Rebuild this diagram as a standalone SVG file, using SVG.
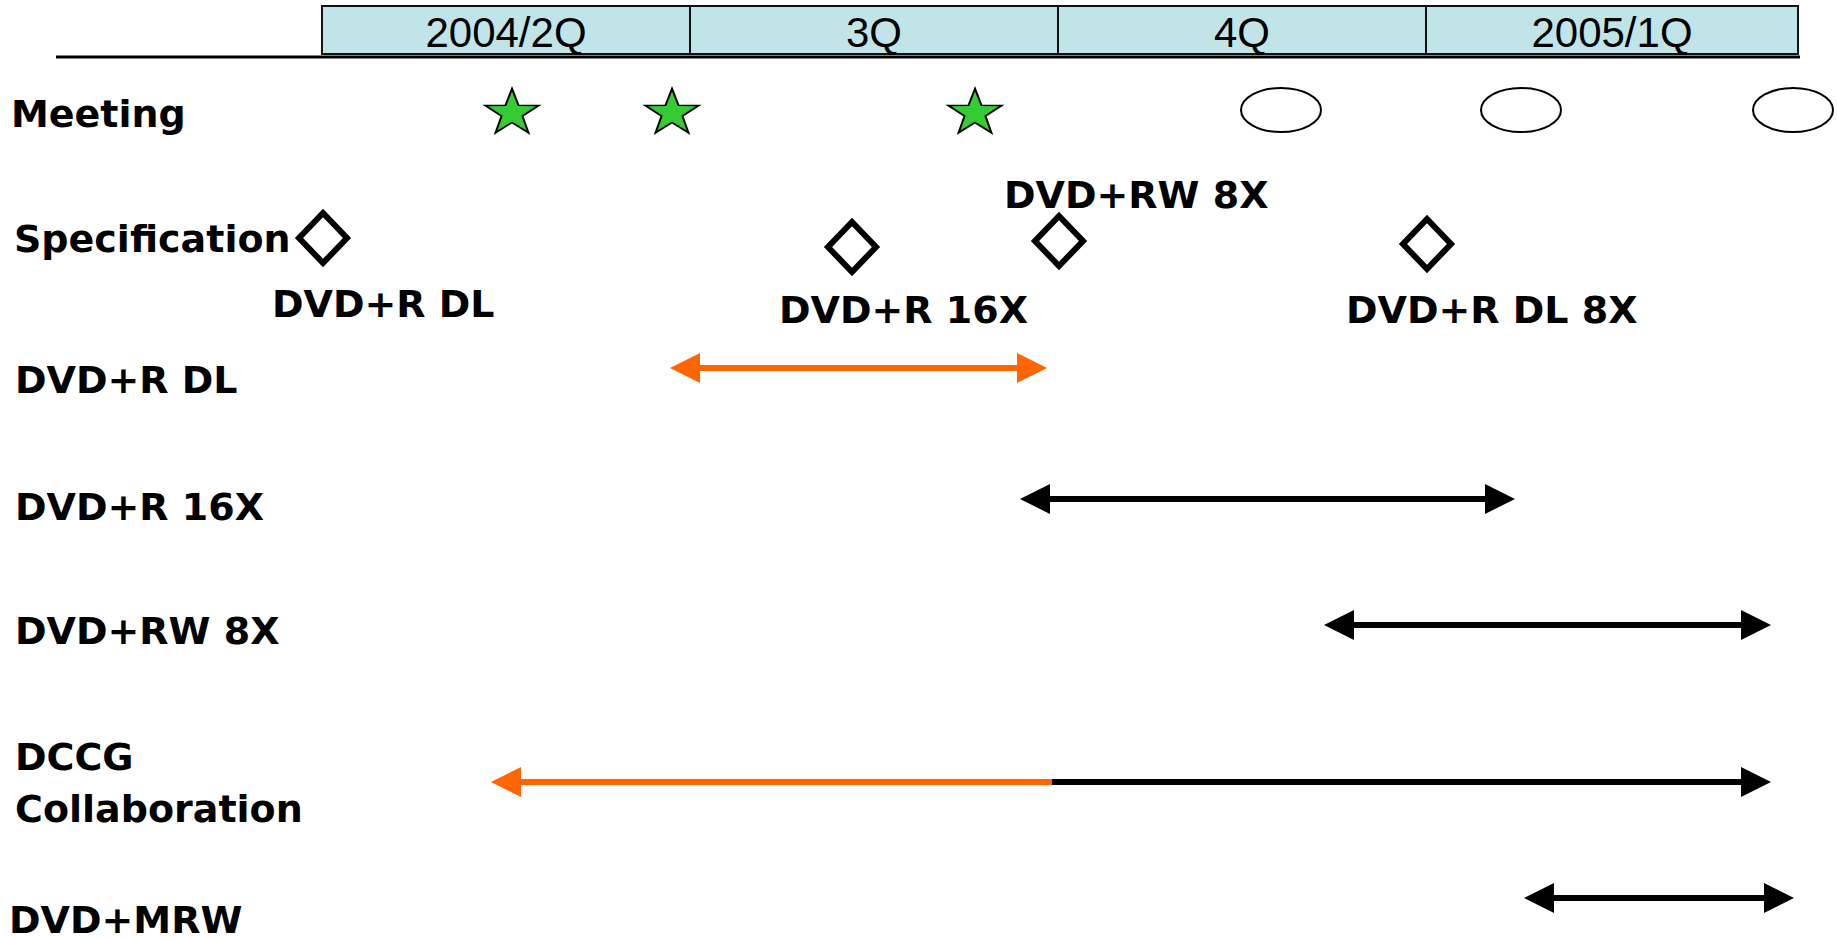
<svg xmlns="http://www.w3.org/2000/svg" width="1837" height="939" viewBox="0 0 1837 939">
  <style>
    .hdr { fill: #c0e4e8; stroke: #111; stroke-width: 2; }
    .div { stroke: #111; stroke-width: 2; }
    .qtxt { font-family: "Liberation Sans", Arial, sans-serif; font-size: 42px; fill: #000; text-anchor: middle; }
    .lbl { font-family: "DejaVu Sans", Verdana, sans-serif; font-weight: bold; font-size: 38px; fill: #000; }
    .star { fill: #33cc33; stroke: #000; stroke-width: 2; stroke-linejoin: miter; }
    .meet { fill: #fff; stroke: #000; stroke-width: 2; }
    .spec { fill: #fff; stroke: #000; stroke-width: 6; stroke-linejoin: miter; }
    .bar-k { stroke: #000; stroke-width: 6; fill: none; }
    .bar-o { stroke: #ff6600; stroke-width: 6; fill: none; }
  </style>
  <defs>
    <path id="star" d="M0,-28 L6.47,-8.9 L26.63,-8.65 L10.46,3.4 L16.46,22.65 L0,11 L-16.46,22.65 L-10.46,3.4 L-26.63,-8.65 L-6.47,-8.9 Z"/>
    <path id="diamond" d="M0,-25 L24,0 L0,25 L-24,0 Z"/>
    <marker id="headK" viewBox="0 0 30 30" markerUnits="userSpaceOnUse" markerWidth="30" markerHeight="30" refX="5" refY="15" orient="auto-start-reverse">
      <path d="M0,0 L30,15 L0,30 Z" fill="#000"/>
    </marker>
    <marker id="headO" viewBox="0 0 30 30" markerUnits="userSpaceOnUse" markerWidth="30" markerHeight="30" refX="5" refY="15" orient="auto-start-reverse">
      <path d="M0,0 L30,15 L0,30 Z" fill="#ff6600"/>
    </marker>
  </defs>
  <rect width="1837" height="939" fill="#fff"/>

  <!-- quarter header -->
  <g id="timeline-header">
    <rect class="hdr" x="322" y="6" width="1476" height="48"/>
    <line class="div" x1="690" y1="6" x2="690" y2="54"/>
    <line class="div" x1="1058" y1="6" x2="1058" y2="54"/>
    <line class="div" x1="1426" y1="6" x2="1426" y2="54"/>
    <text class="qtxt" x="506" y="47">2004/2Q</text>
    <text class="qtxt" x="874" y="47">3Q</text>
    <text class="qtxt" x="1242" y="47">4Q</text>
    <text class="qtxt" x="1612" y="47">2005/1Q</text>
    <line x1="56" y1="57" x2="1800" y2="57" stroke="#000" stroke-width="3"/>
  </g>

  <!-- row labels -->
  <g id="row-labels">
    <text class="lbl" x="11" y="127">Meeting</text>
    <text class="lbl" x="14" y="252">Specification</text>
    <text class="lbl" x="15" y="393">DVD+R DL</text>
    <text class="lbl" x="15" y="520">DVD+R 16X</text>
    <text class="lbl" x="15" y="644">DVD+RW 8X</text>
    <text class="lbl" x="15" y="770">DCCG</text>
    <text class="lbl" x="15" y="822">Collaboration</text>
    <text class="lbl" x="9" y="933">DVD+MRW</text>
  </g>

  <!-- meetings held -->
  <g id="meetings-held">
    <use href="#star" class="star" transform="translate(512,113) scale(1,0.87)"/>
    <use href="#star" class="star" transform="translate(672,113) scale(1,0.87)"/>
    <use href="#star" class="star" transform="translate(975,113) scale(1,0.87)"/>
  </g>

  <!-- meetings planned -->
  <g id="meetings-planned">
    <ellipse class="meet" cx="1281" cy="110" rx="40" ry="22"/>
    <ellipse class="meet" cx="1521" cy="110" rx="40" ry="22"/>
    <ellipse class="meet" cx="1793" cy="110" rx="40" ry="22"/>
  </g>

  <!-- specification milestones -->
  <g id="spec-dvdr-dl">
    <use href="#diamond" class="spec" transform="translate(323,238)"/>
    <text class="lbl" x="272" y="317">DVD+R DL</text>
  </g>
  <g id="spec-dvdr-16x">
    <use href="#diamond" class="spec" transform="translate(852,247)"/>
    <text class="lbl" x="779" y="323">DVD+R 16X</text>
  </g>
  <g id="spec-dvdrw-8x">
    <use href="#diamond" class="spec" transform="translate(1059,241)"/>
    <text class="lbl" x="1004" y="208">DVD+RW 8X</text>
  </g>
  <g id="spec-dvdr-dl-8x">
    <use href="#diamond" class="spec" transform="translate(1427,244)"/>
    <text class="lbl" x="1346" y="323">DVD+R DL 8X</text>
  </g>

  <!-- schedule bars -->
  <g id="connectors">
    <line class="bar-o" x1="695" y1="368" x2="1022" y2="368" marker-start="url(#headO)" marker-end="url(#headO)"/>
    <line class="bar-k" x1="1045" y1="499" x2="1490" y2="499" marker-start="url(#headK)" marker-end="url(#headK)"/>
    <line class="bar-k" x1="1349" y1="625" x2="1746" y2="625" marker-start="url(#headK)" marker-end="url(#headK)"/>
    <line class="bar-o" x1="516" y1="782" x2="1052" y2="782" marker-start="url(#headO)"/>
    <line class="bar-k" x1="1052" y1="782" x2="1746" y2="782" marker-end="url(#headK)"/>
    <line class="bar-k" x1="1549" y1="898" x2="1769" y2="898" marker-start="url(#headK)" marker-end="url(#headK)"/>
  </g>
</svg>
